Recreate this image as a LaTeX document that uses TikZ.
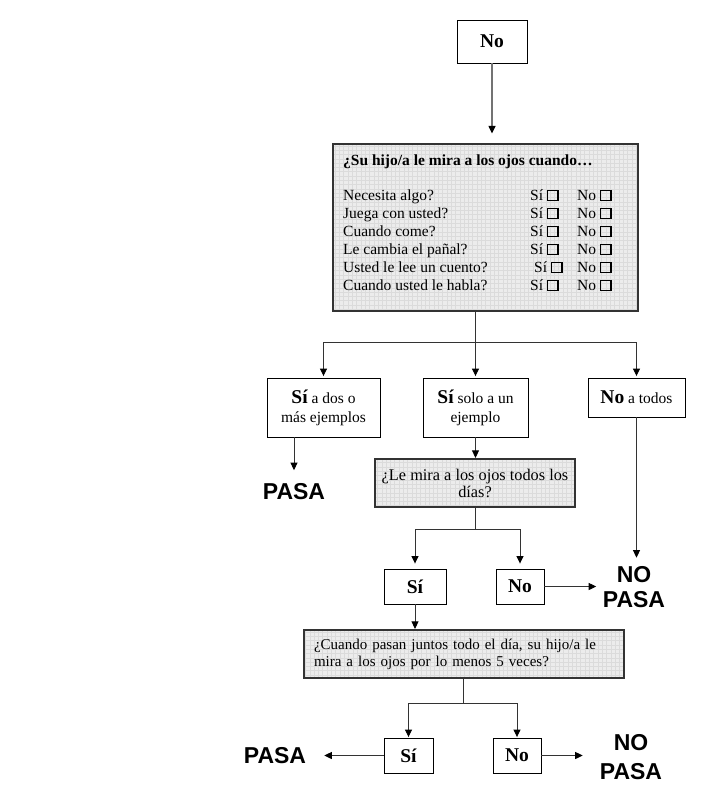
\documentclass[tikz,border=0pt]{standalone}
\usepackage{fontspec}
\setmainfont{Liberation Serif}
\newfontfamily\arialfont{Liberation Sans}
\usetikzlibrary{arrows.meta}
\newcommand{\chkbox}{\hspace{4pt}{\setlength{\fboxrule}{1.2pt}\setlength{\fboxsep}{0pt}\fbox{\rule{0pt}{9pt}\rule{9pt}{0pt}}}}
\newcommand{\bigb}{\fontsize{19.5}{20}\selectfont\bfseries}
\begin{document}
\begin{tikzpicture}[x=1pt,y=-1pt,
 plainbox/.style={draw=black, line width=0.9pt, fill=white, inner sep=0pt, align=center, font=\fontsize{15.5}{19}\selectfont},
 gridbox/.style={draw=black!80, line width=1.2pt, fill=gray!15, inner sep=0pt,
   path picture={\draw[gray!28, line width=0.35pt, step=4.3pt] (path picture bounding box.south west) grid (path picture bounding box.north east);}},
 arr/.style={draw=black!80, line width=0.9pt, -{Triangle[length=7.5pt,width=7pt,black]}},
 ln/.style={draw=black!80, line width=0.9pt},
 bigtxt/.style={font=\arialfont\bfseries\fontsize{23}{26}\selectfont, align=center, inner sep=0pt},
 rowtxt/.style={anchor=base west, inner sep=0pt, font=\fontsize{15.5}{18}\selectfont}
]
\useasboundingbox (0,0) rectangle (706,788);

% top
\node[plainbox, minimum width=70, minimum height=43, font=\bigb] (no0) at (492,41.5) {No};
\node[gridbox, minimum width=305, minimum height=167] (q1) at (485.5,227.5) {};
\draw[arr, draw=black!55, line width=1.2pt, shorten >=10pt] (no0.south) -- (no0.south |- q1.north);

\node[rowtxt, font=\fontsize{15.5}{18}\selectfont\bfseries] (title) at (343,165) {¿Su hijo/a le mira a los ojos cuando…};
\foreach \i/\t/\yy/\sx in {1/Necesita algo?/200/530, 2/Juega con usted?/218/530, 3/Cuando come?/236/530, 4/Le cambia el pañal?/254/530, 5/Usted le lee un cuento?/272/534, 6/Cuando usted le habla?/290/530}{
  \node[rowtxt] (r\i) at (343,\yy) {\t};
  \node[rowtxt] (s\i) at (\sx,\yy) {Sí\chkbox};
  \node[rowtxt] (n\i) at (577,\yy) {No\chkbox};
}

% level 2
\node[plainbox, minimum width=113, minimum height=59] (b1) at (323.5,407.5) {{\bigb Sí} a dos o\\más ejemplos};
\node[plainbox, minimum width=105, minimum height=59] (b2) at (475.5,407.5) {{\bigb Sí} solo a un\\ejemplo};
\node[plainbox, minimum width=97, minimum height=39] (b3) at (636.5,397.5) {{\bigb No} a todos};

\coordinate (sp1) at (475.5,342);
\draw[ln] (q1.south -| sp1) -- (sp1);
\draw[ln] (b1.north |- sp1) -- (b3.north |- sp1);
\draw[arr, shorten >=1.5pt] (b1.north |- sp1) -- (b1.north);
\draw[arr, shorten >=1.5pt] (sp1) -- (b2.north);
\draw[arr, shorten >=1.5pt] (b3.north |- sp1) -- (b3.north);

\node[bigtxt] (pasa1) at (294,492) {PASA};
\draw[arr, shorten >=13.5pt] (b1.south -| pasa1) -- (pasa1.north);

% level 3
\node[gridbox, minimum width=200, minimum height=48, align=center, font=\fontsize{16.3}{17}\selectfont] (q2) at (475,483) {¿Le mira a los ojos todos los\\días?};
\draw[arr, shorten >=0.5pt] (b2.south) -- (b2.south |- q2.north);

\node[plainbox, minimum width=62, minimum height=35, font=\bigb] (s3) at (415,586.5) {Sí};
\node[plainbox, minimum width=48, minimum height=35, font=\bigb] (n3) at (520,586.5) {No};
\coordinate (sp2) at (475.5,529);
\draw[ln] (q2.south -| sp2) -- (sp2);
\draw[ln] (s3.north |- sp2) -- (n3.north |- sp2);
\draw[arr, shorten >=5pt] (s3.north |- sp2) -- (s3.north);
\draw[arr, shorten >=5pt] (n3.north |- sp2) -- (n3.north);

\node[bigtxt, font=\arialfont\bfseries\fontsize{23}{25}\selectfont] (nopasa3) at (634,587.5) {NO\\PASA};
\draw[arr, shorten >=9pt] (b3.south) -- (b3.south |- nopasa3.north);
\draw[arr, shorten >=6.5pt] (n3.east) -- (n3.east -| nopasa3.west);

% level 4
\node[gridbox, minimum width=319, minimum height=48, text width=300, inner xsep=10pt, align=left, font=\fontsize{15}{17}\selectfont] (q3) at (464,654) {¿Cuando pasan juntos todo el día, su hijo/a le\\mira a los ojos por lo menos 5 veces?};
\draw[arr, shorten >=0.5pt] (s3.south) -- (s3.south |- q3.north);

\node[plainbox, minimum width=49, minimum height=35, font=\bigb] (s4) at (408.5,755.5) {Sí};
\node[plainbox, minimum width=48, minimum height=35, font=\bigb] (n4) at (517,755.5) {No};
\coordinate (sp3) at (463,703);
\draw[ln] (q3.south -| sp3) -- (sp3);
\draw[ln] (s4.north |- sp3) -- (n4.north |- sp3);
\draw[arr, shorten >=0.5pt] (s4.north |- sp3) -- (s4.north);
\draw[arr, shorten >=0.5pt] (n4.north |- sp3) -- (n4.north);

\node[bigtxt] (pasa4) at (275,756) {PASA};
\node[bigtxt, font=\arialfont\bfseries\fontsize{23}{29}\selectfont] (nopasa4) at (631,757.5) {NO\\PASA};
\draw[arr, shorten >=18pt] (s4.west) -- (s4.west -| pasa4.east);
\draw[arr, shorten >=17pt] (n4.east) -- (n4.east -| nopasa4.west);
\end{tikzpicture}
\end{document}
